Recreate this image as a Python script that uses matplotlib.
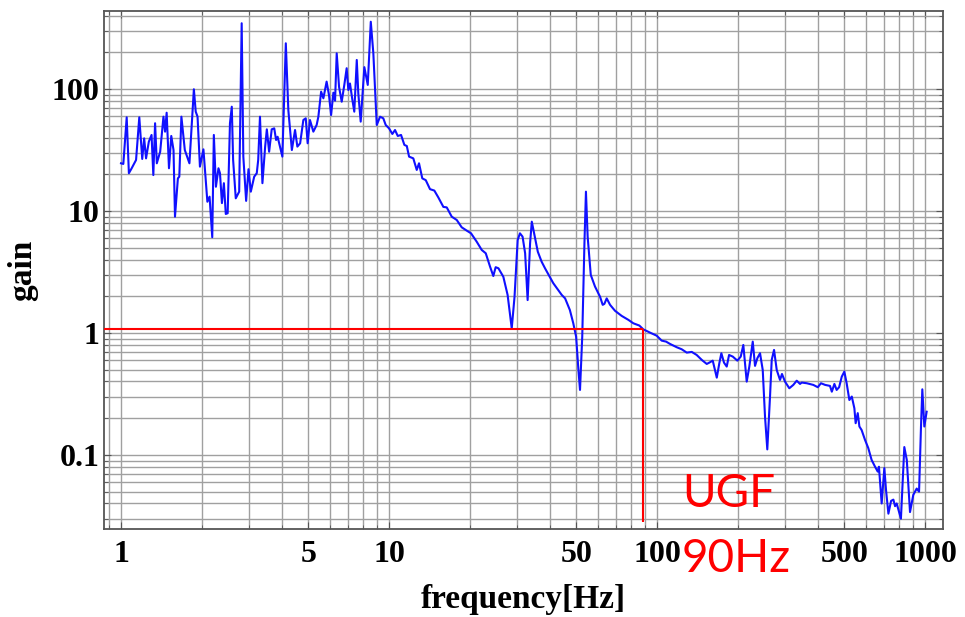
import matplotlib
matplotlib.use("Agg")
import matplotlib.pyplot as plt
from matplotlib.ticker import LogLocator, FixedLocator, FixedFormatter, NullFormatter

plt.rcParams['font.family'] = 'serif'
plt.rcParams['font.serif'] = ['Liberation Serif', 'DejaVu Serif']
plt.rcParams['font.weight'] = 'bold'

# open loop gain, split by frequency band
freq_1 = [1.00, 1.02, 1.05, 1.07, 1.096, 1.138, 1.17, 1.20, 1.22, 1.24, 1.27, 1.30, 1.32,
          1.34, 1.36, 1.40, 1.44, 1.46, 1.48, 1.51, 1.54, 1.57, 1.59, 1.63, 1.65, 1.68,
          1.73, 1.80, 1.87, 1.90, 1.93, 1.97, 2.03, 2.10, 2.14, 2.19, 2.22, 2.26, 2.31]
gain_1 = [24.6, 24.3, 58.6, 20.4, 22.4, 26.2, 58.6, 26.7, 39.4, 27.0, 37.0, 42.0, 19.7,
          52.4, 24.6, 30.6, 59.3, 44.7, 63.9, 22.4, 41.2, 31.6, 8.98, 18.5, 19.1, 59.3,
          31.6, 24.6, 99.5, 65.2, 59.3, 23.1, 32.0, 11.9, 13.1, 6.09, 42.0, 15.8, 22.4]

freq_2 = [2.34, 2.38, 2.42, 2.46, 2.50, 2.55, 2.59, 2.62, 2.68, 2.76, 2.82, 2.86, 2.93,
          2.99, 3.05, 3.14, 3.21, 3.25, 3.30, 3.37, 3.45, 3.50, 3.57, 3.65, 3.73, 3.79,
          3.84, 3.92, 4.00, 4.12, 4.21, 4.34, 4.46, 4.55, 4.66, 4.79, 4.89, 4.97, 5.07,
          5.22, 5.37]
gain_2 = [20.4, 11.6, 16.9, 9.45, 9.58, 52.4, 71.6, 26.2, 12.7, 14.4, 346, 27.9, 12.1,
          22.0, 14.4, 19.1, 20.4, 26.2, 59.3, 16.9, 33.7, 46.7, 30.6, 46.7, 47.6, 38.2,
          40.6, 33.7, 27.9, 237, 67.3, 31.6, 46.1, 33.7, 35.9, 55.7, 57.5, 35.9, 55.7,
          44.7, 50.7]

freq_3 = [5.45, 5.58, 5.69, 5.85, 5.97, 6.08, 6.20, 6.29, 6.38, 6.51, 6.66, 6.81, 6.95,
          7.05, 7.15, 7.30, 7.42, 7.58, 7.68, 7.84, 8.09, 8.33, 8.55, 8.74, 9.00, 9.26,
          9.52, 9.72, 10.0, 10.29, 10.53, 10.78, 11.09, 11.41]
gain_3 = [59.3, 95.1, 83.9, 115, 89.3, 61.2, 93.3, 80.2, 196, 104, 78.7, 108, 148,
          98.1, 111, 81.3, 65.2, 173, 92.2, 54.0, 151, 108, 356, 196, 50.7, 59.3,
          57.5, 50.7, 47.6, 42.8, 46.1, 41.2, 42.0, 34.8]

freq_4 = [11.65, 11.88, 12.32, 12.69, 12.94, 13.31, 13.71, 14.22, 14.76, 15.28, 15.95,
          16.42, 17.14, 17.89, 18.67, 19.50, 20.23, 21.24, 22.18, 22.96, 23.83, 24.5,
          25.0, 25.6, 26.7, 27.7, 28.7, 29.4, 30.2, 30.8, 31.5, 32.2, 32.9, 33.6, 34.1,
          34.8, 35.9, 37.1, 38.2]
gain_4 = [34.1, 27.9, 27.0, 21.7, 24.6, 18.5, 17.9, 15.1, 14.7, 12.9, 10.8, 10.7, 8.98,
          8.44, 7.35, 6.90, 6.56, 5.60, 4.79, 4.50, 3.49, 2.93, 3.46, 3.39, 2.89, 2.05,
          1.09, 1.98, 5.78, 6.56, 6.16, 4.50, 1.86, 5.43, 8.17, 6.56, 4.64, 3.84, 3.39]

freq_5 = [41.0, 44.1, 45.4, 47.3, 48.7, 49.9, 50.9, 51.6, 52.6, 53.6, 54.3, 55.1, 56.6,
          58.7, 61.3, 62.7, 63.6, 64.9, 66.8, 69.7, 73.8, 78.2, 81.6, 85.9, 88.9, 94.2,
          99.7]
gain_5 = [2.56, 2.05, 1.92, 1.54, 1.20, 0.933, 0.497, 0.341, 0.933, 5.43, 14.4, 6.16,
          2.99, 2.40, 1.98, 1.70, 1.73, 1.92, 1.70, 1.52, 1.38, 1.28, 1.20, 1.15, 1.07,
          1.006, 0.950]

freq_6 = [104.1, 108.1, 111.8, 118.4, 123.6, 129.1, 134.8, 140.6, 146.9, 153.3, 156.7,
          161.4, 167.1, 170.8, 173.8, 177.8, 182.0, 185.7, 191.7, 199.4, 205.3, 209.9,
          216.1, 221.0, 227.6, 232.1, 236.8, 242.3, 248.0, 252.9, 257.9, 264.0, 267.9,
          273.3, 279.7, 287.7, 292.6, 300.3, 311.6, 322.5, 332.1, 341.7]
gain_6 = [0.865, 0.849, 0.813, 0.764, 0.735, 0.690, 0.699, 0.660, 0.601, 0.557, 0.571,
          0.593, 0.430, 0.565, 0.682, 0.571, 0.530, 0.660, 0.640, 0.593, 0.640, 0.797,
          0.399, 0.530, 0.849, 0.537, 0.621, 0.682, 0.497, 0.206, 0.111, 0.301, 0.601,
          0.726, 0.497, 0.412, 0.461, 0.399, 0.352, 0.375, 0.406, 0.382]

freq_7 = [346.7, 362, 383, 398, 409, 424, 442, 449, 459, 468, 478, 489, 500, 510, 522,
          533, 545, 551, 561, 569, 580, 597, 614, 632, 651, 666, 673, 689, 705, 715, 730,
          747, 762, 773, 784, 800, 813, 826, 837, 855, 879, 904, 931, 950, 966, 977, 994,
          1014]
gain_7 = [0.392, 0.387, 0.375, 0.359, 0.387, 0.375, 0.368, 0.330, 0.382, 0.341, 0.359,
          0.438, 0.482, 0.387, 0.282, 0.301, 0.241, 0.182, 0.220, 0.171, 0.160, 0.133,
          0.114, 0.091, 0.080, 0.073, 0.080, 0.040, 0.078, 0.052, 0.033, 0.042, 0.043,
          0.038, 0.040, 0.034, 0.030, 0.062, 0.116, 0.091, 0.034, 0.047, 0.053, 0.050,
          0.171, 0.345, 0.171, 0.226]

freq = freq_1 + freq_2 + freq_3 + freq_4 + freq_5 + freq_6 + freq_7
gain = gain_1 + gain_2 + gain_3 + gain_4 + gain_5 + gain_6 + gain_7

ugf_freq = 88.9
ugf_gain = 1.08
ugf_bottom = 0.0284

x_ticks = [1, 5, 10, 50, 100, 500, 1000]
x_tick_labels = ["1", "5", "10", "50", "100", "500", "1000"]
y_ticks = [0.1, 1, 10, 100]
y_tick_labels = ["0.1", "1", "10", "100"]

fig = plt.figure(figsize=(9.65, 6.17), dpi=100)
ax = fig.add_axes([104/965, 1-529/617, 839/965, 518/617])
ax.set_xscale('log')
ax.set_yscale('log')
ax.set_xlim(0.864, 1167)
ax.set_ylim(0.0247, 436)

ax.xaxis.set_major_locator(FixedLocator(x_ticks))
ax.xaxis.set_major_formatter(FixedFormatter(x_tick_labels))
ax.xaxis.set_minor_locator(LogLocator(base=10, subs=range(1, 10), numticks=20))
ax.xaxis.set_minor_formatter(NullFormatter())
ax.yaxis.set_major_locator(FixedLocator(y_ticks))
ax.yaxis.set_major_formatter(FixedFormatter(y_tick_labels))
ax.yaxis.set_minor_locator(LogLocator(base=10, subs=range(1, 10), numticks=20))
ax.yaxis.set_minor_formatter(NullFormatter())

ax.grid(True, which='both', color='#a0a0a0', linewidth=1.0)
ax.set_axisbelow(True)
for sp in ax.spines.values():
    sp.set_color('#555555')
    sp.set_linewidth(1.3)
ax.tick_params(which='both', direction='in', top=True, right=True, color='#555555')
ax.tick_params(which='major', length=5)
ax.tick_params(which='minor', length=3)
ax.tick_params(axis='x', labelsize=23, pad=8)
ax.tick_params(axis='y', labelsize=23, pad=3)

ax.plot(freq, gain, color='#1010ff', linewidth=1.5)
ax.hlines(ugf_gain, 0.864, ugf_freq, color='red', linewidth=1.5, zorder=3)
ax.vlines(ugf_freq, ugf_bottom, ugf_gain, color='red', linewidth=1.5, zorder=3)

ax.set_xlabel("frequency[Hz]", fontsize=24, fontweight='bold', va='top')
ax.xaxis.set_label_coords(0.5, -0.106)
ax.set_ylabel("gain", fontsize=24, fontweight='bold')
ax.yaxis.set_label_coords(-0.079, 0.5)

fig.text(682/965, 1-507/617, "UGF", color='red', fontsize=33, family='Lato',
         fontweight='normal', va='baseline')
fig.text(682/965, 1-572/617, "90Hz", color='red', fontsize=33, family='Lato',
         fontweight='normal', va='baseline')

fig.savefig("out.png", dpi=100)
